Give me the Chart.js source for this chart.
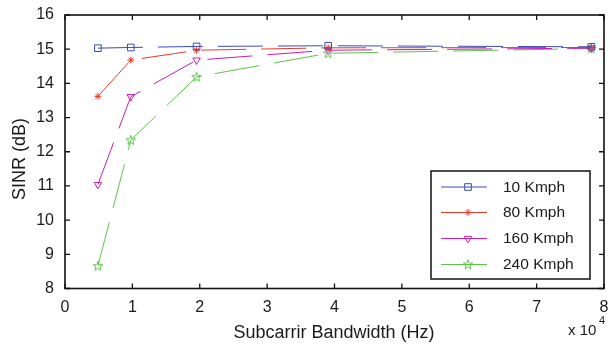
<!DOCTYPE html>
<html>
<head>
<meta charset="utf-8">
<script src="https://cdn.jsdelivr.net/npm/chart.js@4/dist/chart.umd.min.js"></script>
<style>
  html, body { margin: 0; padding: 0; background: #fff; }
  #c { display: block; }
</style>
</head>
<body>
<canvas id="c" width="610" height="347"></canvas>
<script>
// Subcarrier bandwidths (Hz) and SINR (dB) per speed
const bandwidths = [4882.8125, 9765.625, 19531.25, 39062.5, 78125];
const sinr10  = [15.03, 15.05, 15.08, 15.10, 15.07];
const sinr80  = [13.62, 14.68, 14.97, 15.04, 15.05];
const sinr160 = [11.04, 13.61, 14.68, 14.97, 15.03];
const sinr240 = [8.66, 12.34, 14.19, 14.88, 15.02];
const seriesLabels = ['10 Kmph', '80 Kmph', '160 Kmph', '240 Kmph'];
const xTicks = [0, 1, 2, 3, 4, 5, 6, 7, 8];      // in units of 1e4 Hz
const yTicks = [8, 9, 10, 11, 12, 13, 14, 15, 16];

const FONT = '"Liberation Sans", Arial, Helvetica, sans-serif';
const colors = ['#3a4cb4', '#e8392b', '#c21fb3', '#5cc44a'];

// Outlined five-pointed star marker
function pentagram(color) {
  const cv = document.createElement('canvas');
  cv.width = 12; cv.height = 12;
  const g = cv.getContext('2d');
  const cx = 6, cy = 6.3, ro = 5, ri = 2.1;
  g.beginPath();
  for (let i = 0; i < 10; i++) {
    const r = i % 2 ? ri : ro;
    const a = -Math.PI / 2 + i * Math.PI / 5;
    const px = cx + r * Math.cos(a), py = cy + r * Math.sin(a);
    if (i) g.lineTo(px, py); else g.moveTo(px, py);
  }
  g.closePath();
  g.strokeStyle = color;
  g.lineWidth = 1;
  g.stroke();
  return cv;
}

const markers = [
  { pointStyle: 'rect', rotation: 0, radius: 4.7 },
  { pointStyle: 'star', rotation: 0, radius: 3.4 },
  { pointStyle: 'triangle', rotation: 180, radius: 4.3 },
  { pointStyle: pentagram(colors[3]), rotation: 0, radius: 5 }
];

function makeSet(i, values) {
  return {
    label: seriesLabels[i],
    data: bandwidths.map((x, k) => ({ x: x, y: values[k] })),
    borderColor: colors[i],
    backgroundColor: 'rgba(0,0,0,0)',
    borderWidth: 1,
    borderDash: [45, 15],
    pointStyle: markers[i].pointStyle,
    rotation: markers[i].rotation,
    pointRadius: markers[i].radius,
    pointBorderColor: colors[i],
    pointBackgroundColor: 'rgba(0,0,0,0)',
    pointBorderWidth: 1,
    tension: 0
  };
}

// Drop the automatic label-overflow padding so the plot box is set by layout.padding
function noOverflow(s) {
  s.paddingTop = 0; s.paddingBottom = 0; s.paddingLeft = 0; s.paddingRight = 0;
}

// Box frame, inward ticks, axis titles, exponent note and legend
const decor = {
  id: 'decor',
  afterDatasetsDraw(chart) {
    const ctx = chart.ctx;
    const a = chart.chartArea;
    const xs = chart.scales.x, ys = chart.scales.y;
    ctx.save();
    ctx.strokeStyle = '#111';
    ctx.lineWidth = 1.6;
    ctx.strokeRect(a.left, a.top, a.right - a.left, a.bottom - a.top);
    ctx.lineWidth = 1.3;
    ctx.beginPath();
    const tl = 5;
    xTicks.forEach(t => {
      const px = xs.getPixelForValue(t * 10000);
      ctx.moveTo(px, a.bottom); ctx.lineTo(px, a.bottom - tl);
      ctx.moveTo(px, a.top); ctx.lineTo(px, a.top + tl);
    });
    yTicks.forEach(t => {
      const py = ys.getPixelForValue(t);
      ctx.moveTo(a.left, py); ctx.lineTo(a.left + tl, py);
      ctx.moveTo(a.right, py); ctx.lineTo(a.right - tl, py);
    });
    ctx.stroke();

    // Axis titles
    ctx.fillStyle = '#1a1a1a';
    ctx.font = '18px ' + FONT;
    ctx.textAlign = 'center';
    ctx.textBaseline = 'middle';
    ctx.fillText('Subcarrir Bandwidth (Hz)', 334, 333);
    ctx.save();
    ctx.translate(20, 159);
    ctx.rotate(-Math.PI / 2);
    ctx.fillText('SINR (dB)', 0, 0);
    ctx.restore();

    // x 10^4 note
    ctx.font = '15px ' + FONT;
    ctx.textAlign = 'left';
    ctx.fillText('x 10', 568, 331);
    ctx.font = '11px ' + FONT;
    ctx.fillText('4', 599, 321);

    // Legend
    const lx0 = 431, ly0 = 171, lx1 = 590, ly1 = 279;
    ctx.fillStyle = '#fff';
    ctx.fillRect(lx0, ly0, lx1 - lx0, ly1 - ly0);
    ctx.strokeStyle = '#111';
    ctx.lineWidth = 1.5;
    ctx.strokeRect(lx0, ly0, lx1 - lx0, ly1 - ly0);
    const rows = [187, 212.5, 238.5, 264.5];
    chart.data.datasets.forEach((ds, i) => {
      const y = rows[i];
      ctx.strokeStyle = ds.borderColor;
      ctx.lineWidth = 1;
      ctx.beginPath();
      ctx.moveTo(441, y); ctx.lineTo(487, y);
      ctx.stroke();
      ctx.fillStyle = 'rgba(0,0,0,0)';
      Chart.helpers.drawPoint(ctx, {
        pointStyle: ds.pointStyle, rotation: ds.rotation,
        radius: ds.pointRadius, borderWidth: 1
      }, 468, y);
      ctx.fillStyle = '#1a1a1a';
      ctx.font = '15.5px ' + FONT;
      ctx.textAlign = 'left';
      ctx.textBaseline = 'middle';
      ctx.fillText(ds.label, 503, y + 0.5);
    });
    ctx.restore();
  }
};

new Chart(document.getElementById('c'), {
  type: 'line',
  data: {
    datasets: [
      makeSet(0, sinr10),
      makeSet(1, sinr80),
      makeSet(2, sinr160),
      makeSet(3, sinr240)
    ]
  },
  options: {
    responsive: false,
    animation: false,
    devicePixelRatio: 1,
    layout: { padding: { top: 15, right: 5, left: 0, bottom: 0 } },
    plugins: { legend: { display: false }, tooltip: { enabled: false } },
    scales: {
      x: {
        type: 'linear',
        min: 0, max: 80000,
        afterBuildTicks(s) { s.ticks = xTicks.map(v => ({ value: v * 10000 })); },
        afterFit(s) { s.height = 58.5; noOverflow(s); },
        grid: { display: false, drawTicks: false },
        border: { display: false },
        ticks: {
          padding: 9,
          color: '#1a1a1a',
          font: { family: FONT, size: 16 },
          callback: v => String(v / 10000)
        }
      },
      y: {
        type: 'linear',
        min: 8, max: 16,
        afterBuildTicks(s) { s.ticks = yTicks.map(v => ({ value: v })); },
        afterFit(s) { s.width = 65; noOverflow(s); },
        grid: { display: false, drawTicks: false },
        border: { display: false },
        ticks: {
          padding: 11,
          color: '#1a1a1a',
          font: { family: FONT, size: 16 },
          callback: v => String(v)
        }
      }
    }
  },
  plugins: [decor]
});
</script>
</body>
</html>
